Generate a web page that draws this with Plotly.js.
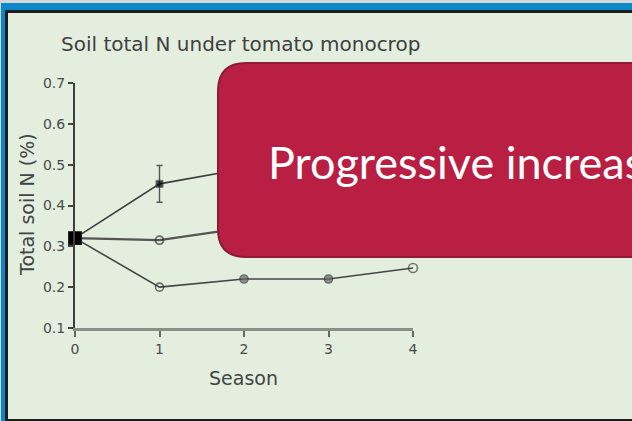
<!DOCTYPE html>
<html>
<head>
<meta charset="utf-8">
<script src="https://cdn.plot.ly/plotly-3.0.1.min.js"></script>
<style>
html,body{margin:0;padding:0;background:#e3eedf;overflow:hidden;}
#plot{width:632px;height:421px;}
</style>
</head>
<body>
<div id="plot"></div>
<script>
// ---- data ----
const seasons = [0, 1, 2, 3, 4];
const seasonLabels = ["0", "1", "2", "3", "4"];
const upperN = [0.32, 0.453, 0.49, 0.52, 0.55];      // seasons 2-4 hidden behind the callout (estimated)
const upperErr = [0, 0.045, 0.04, 0.04, 0.04];
const middleN = [0.32, 0.315, 0.345, 0.36, 0.38];    // seasons 2-4 hidden behind the callout (estimated)
const lowerN = [0.32, 0.20, 0.22, 0.22, 0.247];
const yTicks = [0.1, 0.2, 0.3, 0.4, 0.5, 0.6, 0.7];
const yTickLabels = ["0.1", "0.2", "0.3", "0.4", "0.5", "0.6", "0.7"];

const chartTitle = "Soil total N under tomato monocrop";
const yTitle = "Total soil N (%)";
const xTitle = "Season";
const calloutText = "Progressive increase";

// ---- layout geometry (pixels) ----
const W = 632, H = 421;
const L = 75, R = 413, T = 83, B = 328;
const px = x => (x - L) / (R - L);
const py = y => (B - y) / (B - T);

function rectShape(x0, y0, x1, y1, color) {
  return {type: 'rect', xref: 'paper', yref: 'paper', layer: 'above',
    x0: px(x0), x1: px(x1), y0: py(y1), y1: py(y0),
    fillcolor: color, line: {width: 0}};
}
function roundRectPath(x1, y1, x2, y2, r) {
  const P = (x, y) => px(x) + ',' + py(y);
  return 'M' + P(x1 + r, y1) + ' L' + P(x2, y1) + ' L' + P(x2, y2) + ' L' + P(x1 + r, y2) +
    ' Q' + P(x1, y2) + ' ' + P(x1, y2 - r) + ' L' + P(x1, y1 + r) +
    ' Q' + P(x1, y1) + ' ' + P(x1 + r, y1) + ' Z';
}

const lineColor = '#3d3d3d';
const traces = [
  {x: seasons, y: upperN, type: 'scatter', mode: 'lines+markers', cliponaxis: false,
   line: {color: lineColor, width: 1.6},
   marker: {symbol: 'square', size: [12, 7, 7, 7, 7], color: '#000'},
   error_y: {type: 'data', array: upperErr, visible: true, color: '#555', thickness: 1.4, width: 3}},
  {x: seasons, y: middleN, type: 'scatter', mode: 'lines+markers', cliponaxis: false,
   line: {color: '#555', width: 2.2},
   marker: {symbol: ['square', 'circle-open', 'circle-open', 'circle-open', 'circle-open'],
            size: [12, 8, 8, 8, 8], color: '#333', line: {width: 1.8, color: '#333'}}},
  {x: seasons, y: lowerN, type: 'scatter', mode: 'lines+markers', cliponaxis: false,
   line: {color: '#444', width: 1.6},
   marker: {symbol: ['square', 'circle-open', 'circle', 'circle', 'circle-open'],
            size: [12, 8, 8, 8, 9], color: ['#000', '#333', '#666', '#666', '#444'],
            line: {width: 1.6, color: '#3a3a3a'}}},
  {x: [seasons[0]], y: [upperN[0]], type: 'scatter', mode: 'markers', cliponaxis: false,
   marker: {symbol: 'square', size: 13, color: '#000'}}
];

const tickFont = {family: 'DejaVu Sans', size: 14, color: '#4a4a4a'};
const layout = {
  width: W, height: H,
  margin: {l: L, r: W - R, t: T, b: H - B, pad: 0},
  paper_bgcolor: '#e3eedf', plot_bgcolor: 'rgba(0,0,0,0)',
  showlegend: false,
  xaxis: {range: [0, 4], tickvals: seasons, ticktext: seasonLabels, showgrid: false, zeroline: false,
    showline: true, linecolor: '#8a8f88', linewidth: 3, ticks: 'outside', ticklen: 6, tickwidth: 2,
    tickcolor: '#666', tickfont: tickFont, fixedrange: true},
  yaxis: {range: [0.1, 0.7], tickvals: yTicks, ticktext: yTickLabels, showgrid: false, zeroline: false,
    showline: true, linecolor: '#3f3f3f', linewidth: 2, ticks: 'outside', ticklen: 5, tickwidth: 2,
    tickcolor: '#444', tickfont: tickFont, fixedrange: true},
  shapes: [
    // frame of the slide
    rectShape(0, 0, W, 3, '#d6d6d6'),
    rectShape(0, 3, W, 10, '#0a88c9'),
    rectShape(0, 10, W, 13, '#1b1e1c'),
    rectShape(0, 0, 1, H, '#d6d6d6'),
    rectShape(1, 3, 5, H, '#0a88c9'),
    rectShape(5, 10, 8, H, '#1b1e1c'),
    rectShape(5, 419, W, H, '#1b1e1c'),
    // red callout
    {type: 'path', xref: 'paper', yref: 'paper', layer: 'above',
     path: roundRectPath(218, 63, 700, 257, 28),
     fillcolor: '#b81f42', line: {color: '#8e1a36', width: 2}}
  ],
  annotations: [
    {text: chartTitle, xref: 'paper', yref: 'paper', x: px(59), y: py(44), xanchor: 'left', yanchor: 'middle',
     showarrow: false, font: {family: 'DejaVu Sans', size: 20, color: '#404040'}},
    {text: yTitle, xref: 'paper', yref: 'paper', x: px(27), y: py(205), xanchor: 'center', yanchor: 'middle',
     textangle: -90, showarrow: false, font: {family: 'DejaVu Sans', size: 19, color: '#444'}},
    {text: xTitle, xref: 'paper', yref: 'paper', x: px(243), y: py(378), xanchor: 'center', yanchor: 'middle',
     showarrow: false, font: {family: 'DejaVu Sans', size: 19, color: '#444'}},
    {text: calloutText, xref: 'paper', yref: 'paper', x: px(266), y: py(162), xanchor: 'left', yanchor: 'middle',
     showarrow: false, font: {family: 'Lato', size: 45, color: '#ffffff'}}
  ]
};

Plotly.newPlot('plot', traces, layout, {staticPlot: true, displayModeBar: false});
</script>
</body>
</html>
